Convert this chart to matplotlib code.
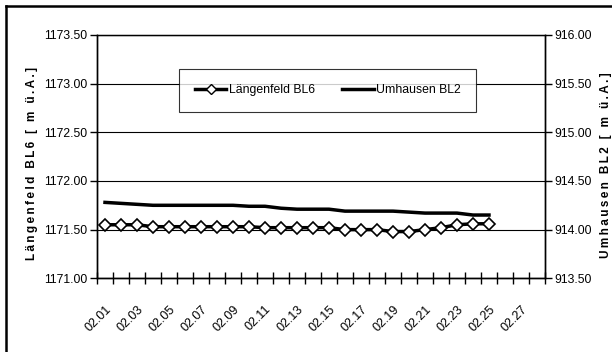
import matplotlib
matplotlib.use("Agg")
import matplotlib.pyplot as plt
from matplotlib.lines import Line2D
from matplotlib.ticker import FixedLocator, NullFormatter

plt.rcParams['font.family'] = ['Liberation Sans', 'DejaVu Sans']

# categories shown on the x axis (02.01 .. 02.28)
days = ["02.%02d" % d for d in range(1, 29)]

# Längenfeld BL6, left axis [m ü.A.]
laengenfeld = [1171.55, 1171.55, 1171.55, 1171.53, 1171.53, 1171.53, 1171.53,
               1171.53, 1171.53, 1171.53, 1171.52, 1171.52, 1171.52, 1171.52,
               1171.52, 1171.50, 1171.50, 1171.50, 1171.48, 1171.48, 1171.50,
               1171.52, 1171.55, 1171.56, 1171.56]

# Umhausen BL2, right axis [m ü.A.]
umhausen = [914.28, 914.27, 914.26, 914.25, 914.25, 914.25, 914.25, 914.25,
            914.25, 914.24, 914.24, 914.22, 914.21, 914.21, 914.21, 914.19,
            914.19, 914.19, 914.19, 914.18, 914.17, 914.17, 914.17, 914.15,
            914.15]

left_ticks = [1171.00, 1171.50, 1172.00, 1172.50, 1173.00, 1173.50]
right_ticks = [913.50, 914.00, 914.50, 915.00, 915.50, 916.00]


def spaced(s):
    # excel-style letter spacing for the axis titles
    return "\u2009".join(s)


fig = plt.figure(figsize=(6.12, 3.52), dpi=100)
ax = fig.add_axes([0.1585, 0.2094, 0.732, 0.6912])
ax2 = ax.twinx()

x = [i + 0.5 for i in range(len(laengenfeld))]

ax.plot(x, laengenfeld, color="black", lw=2.5, marker="D", ms=6.5,
        mfc="white", mec="black", mew=1.2, zorder=3)
ax2.plot(x, umhausen, color="black", lw=2.5, zorder=3)

ax.set_xlim(0, len(days))
ax.set_ylim(left_ticks[0], left_ticks[-1])
ax2.set_ylim(right_ticks[0], right_ticks[-1])

ax.set_yticks(left_ticks)
ax.set_yticklabels(["%.2f" % v for v in left_ticks], fontsize=8.8)
ax2.set_yticks(right_ticks)
ax2.set_yticklabels(["%.2f" % v for v in right_ticks], fontsize=8.8)
ax.tick_params(axis="y", direction="out", length=5, width=1, pad=2)
ax2.tick_params(axis="y", direction="out", length=5, width=1, pad=2)

# category boundary ticks cross the axis, labels sit in the middle
ax.xaxis.set_major_locator(FixedLocator(range(len(days) + 1)))
ax.xaxis.set_major_formatter(NullFormatter())
ax.tick_params(axis="x", which="major", direction="inout", length=9, width=1)
ax.xaxis.set_minor_locator(FixedLocator([i + 0.5 for i in range(0, len(days), 2)]))
ax.set_xticklabels(days[::2], minor=True, fontsize=9, rotation=45,
                   ha="right", rotation_mode="anchor")
ax.tick_params(axis="x", which="minor", length=0, pad=18)

ax.grid(axis="y", color="black", lw=0.8)
ax.set_axisbelow(True)
for a in (ax, ax2):
    for s in a.spines.values():
        s.set_color("black")
        s.set_linewidth(1)
ax.spines["top"].set_linewidth(0.8)

fig.text(0.053, 0.535, spaced("Längenfeld BL6 [ m ü.A.]"), rotation=90,
         fontsize=8.5, fontweight="bold", ha="center", va="center")
fig.text(0.99, 0.53, spaced("Umhausen BL2 [ m ü.A.]"), rotation=90,
         fontsize=8.5, fontweight="bold", ha="center", va="center")

handles = [Line2D([], [], color="black", lw=2.5, marker="D", ms=5,
                  mfc="white", mec="black", mew=1.0),
           Line2D([], [], color="black", lw=2.5)]
leg = ax2.legend(handles, ["Längenfeld BL6", "Umhausen BL2"], ncol=2,
                 loc="center", bbox_to_anchor=(0.515, 0.772), fontsize=8.8,
                 frameon=True, fancybox=False, borderpad=1.25,
                 handlelength=2.6, handletextpad=0.2, columnspacing=2.2,
                 borderaxespad=0)
leg.get_frame().set_edgecolor("black")
leg.get_frame().set_linewidth(0.8)

# outer chart frame (only left and top visible)
fig.add_artist(Line2D([0.0098, 0.0098], [0, 0.983], color="black", lw=1.8,
                      transform=fig.transFigure))
fig.add_artist(Line2D([0.0098, 1], [0.983, 0.983], color="black", lw=1.8,
                      transform=fig.transFigure))

fig.savefig("out.png", dpi=100)
